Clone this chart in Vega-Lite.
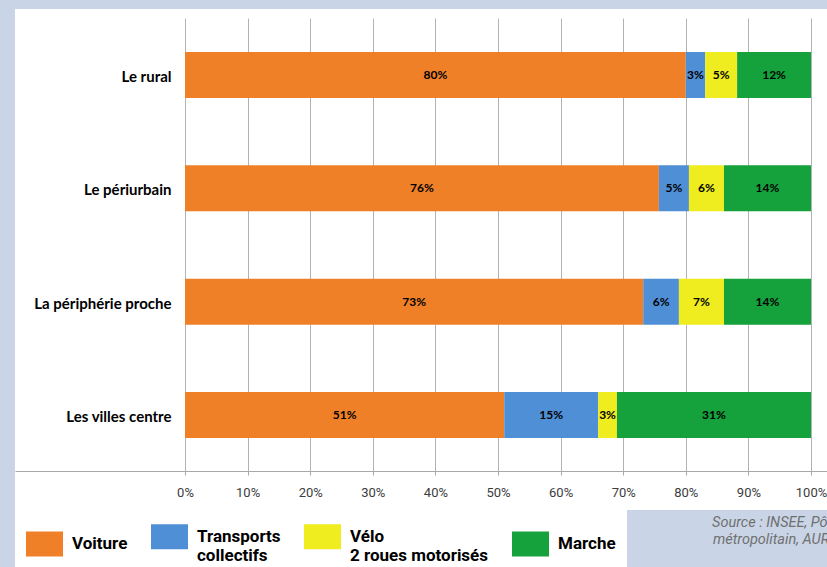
{
  "$schema": "https://vega.github.io/schema/vega-lite/v6.json",
  "width": 812,
  "height": 501,
  "autosize": {"type": "none"},
  "padding": {"left": 15, "top": 9, "right": 0, "bottom": 57},
  "background": "#c9d5e6",
  "config": {"view": {"fill": "white", "stroke": null}},
  "data": {
    "values": [
      {"zone": "Le rural", "mode": "Voiture", "k": 1, "value": 0.800},
      {"zone": "Le rural", "mode": "Transports collectifs", "k": 2, "value": 0.031},
      {"zone": "Le rural", "mode": "Vélo 2 roues motorisés", "k": 3, "value": 0.051},
      {"zone": "Le rural", "mode": "Marche", "k": 4, "value": 0.118},
      {"zone": "Le périurbain", "mode": "Voiture", "k": 1, "value": 0.757},
      {"zone": "Le périurbain", "mode": "Transports collectifs", "k": 2, "value": 0.048},
      {"zone": "Le périurbain", "mode": "Vélo 2 roues motorisés", "k": 3, "value": 0.056},
      {"zone": "Le périurbain", "mode": "Marche", "k": 4, "value": 0.139},
      {"zone": "La périphérie proche", "mode": "Voiture", "k": 1, "value": 0.732},
      {"zone": "La périphérie proche", "mode": "Transports collectifs", "k": 2, "value": 0.057},
      {"zone": "La périphérie proche", "mode": "Vélo 2 roues motorisés", "k": 3, "value": 0.072},
      {"zone": "La périphérie proche", "mode": "Marche", "k": 4, "value": 0.139},
      {"zone": "Les villes centre", "mode": "Voiture", "k": 1, "value": 0.510},
      {"zone": "Les villes centre", "mode": "Transports collectifs", "k": 2, "value": 0.150},
      {"zone": "Les villes centre", "mode": "Vélo 2 roues motorisés", "k": 3, "value": 0.030},
      {"zone": "Les villes centre", "mode": "Marche", "k": 4, "value": 0.310}
    ]
  },
  "resolve": {"axis": {"x": "independent"}},
  "layer": [
    {
      "mark": {"type": "bar"},
      "encoding": {
        "y": {
          "field": "zone", "type": "nominal",
          "sort": ["Le rural", "Le périurbain", "La périphérie proche", "Les villes centre"],
          "scale": {"paddingInner": 0.594, "paddingOuter": 0.507, "align": 0.374},
          "axis": {
            "orient": "left", "offset": -170, "domain": false, "ticks": false, "grid": false,
            "labelPadding": 14, "labelOffset": 2, "labelFont": "Lato", "labelFontWeight": "bold", "labelFontSize": 15,
            "labelColor": "black", "title": null
          }
        },
        "x": {
          "field": "value", "type": "quantitative", "stack": "zero",
          "scale": {"domain": [-0.27157, 1.02556], "nice": false, "zero": false},
          "axis": {
            "orient": "bottom", "offset": -39,
            "values": [0, 0.1, 0.2, 0.3, 0.4, 0.5, 0.6, 0.7, 0.8, 0.9, 1],
            "format": ".0%", "grid": false, "domain": true, "domainColor": "#a8a8a8",
            "ticks": true, "tickSize": 4, "tickColor": "#a8a8a8",
            "labelPadding": 11, "labelFont": "Roboto",
            "labelFontSize": 13, "labelColor": "#3c3c3c", "labelFlush": false, "labelOverlap": false,
            "title": ["Source : INSEE, Pôle", "métropolitain, AURA"],
            "titleX": 823, "titleY": 55, "titleAlign": "right", "titleBaseline": "alphabetic", "titleAngle": 0,
            "titleFont": "Roboto",
            "titleFontSize": 14.5, "titleFontStyle": "italic", "titleFontWeight": "normal",
            "titleColor": "#707070", "titleLineHeight": 17
          }
        },
        "color": {
          "field": "mode", "type": "nominal",
          "scale": {
            "domain": ["Voiture", "Transports collectifs", "Vélo 2 roues motorisés", "Marche"],
            "range": ["#f08028", "#4f8fd6", "#efec1f", "#15a13c"]
          },
          "legend": {
            "orient": "none", "legendX": 0, "legendY": 498, "direction": "horizontal", "columns": 4,
            "title": null, "fillColor": "white", "padding": 11,
            "symbolType": "M-1,-0.68L1,-0.68L1,0.68L-1,0.68Z", "symbolSize": 1369,
            "symbolStrokeWidth": 0, "symbolOpacity": 1,
            "labelFont": "Roboto",
            "labelFontSize": 17, "labelFontWeight": "bold", "labelColor": "black",
            "labelOffset": 9, "columnPadding": 23, "labelLimit": 300,
            "labelExpr": "datum.label == 'Transports collectifs' ? ['Transports', 'collectifs'] : datum.label == 'Vélo 2 roues motorisés' ? ['Vélo', '2 roues motorisés'] : datum.label"
          }
        },
        "order": {"field": "k", "type": "quantitative"}
      }
    },
    {
      "mark": {"type": "text", "font": "Lato", "fontWeight": "bold", "fontSize": 12, "color": "black"},
      "encoding": {
        "y": {
          "field": "zone", "type": "nominal",
          "sort": ["Le rural", "Le périurbain", "La périphérie proche", "Les villes centre"],
          "axis": {
            "orient": "left", "offset": -170, "domain": false, "ticks": false, "grid": false,
            "labelPadding": 14, "labelOffset": 2, "labelFont": "Lato", "labelFontWeight": "bold", "labelFontSize": 15,
            "labelColor": "black", "title": null
          }
        },
        "x": {
          "field": "value", "type": "quantitative", "stack": "zero", "bandPosition": 0.5,
          "axis": {
            "orient": "top", "offset": -9,
            "values": [0, 0.1, 0.2, 0.3, 0.4, 0.5, 0.6, 0.7, 0.8, 0.9, 1],
            "grid": false, "domain": false, "labels": false,
            "ticks": true, "tickSize": -453, "tickColor": "#b3b3b3", "tickWidth": 1,
            "title": null
          }
        },
        "detail": {"field": "mode"},
        "order": {"field": "k", "type": "quantitative"},
        "text": {"field": "value", "type": "quantitative", "format": ".0%"}
      }
    }
  ]
}
